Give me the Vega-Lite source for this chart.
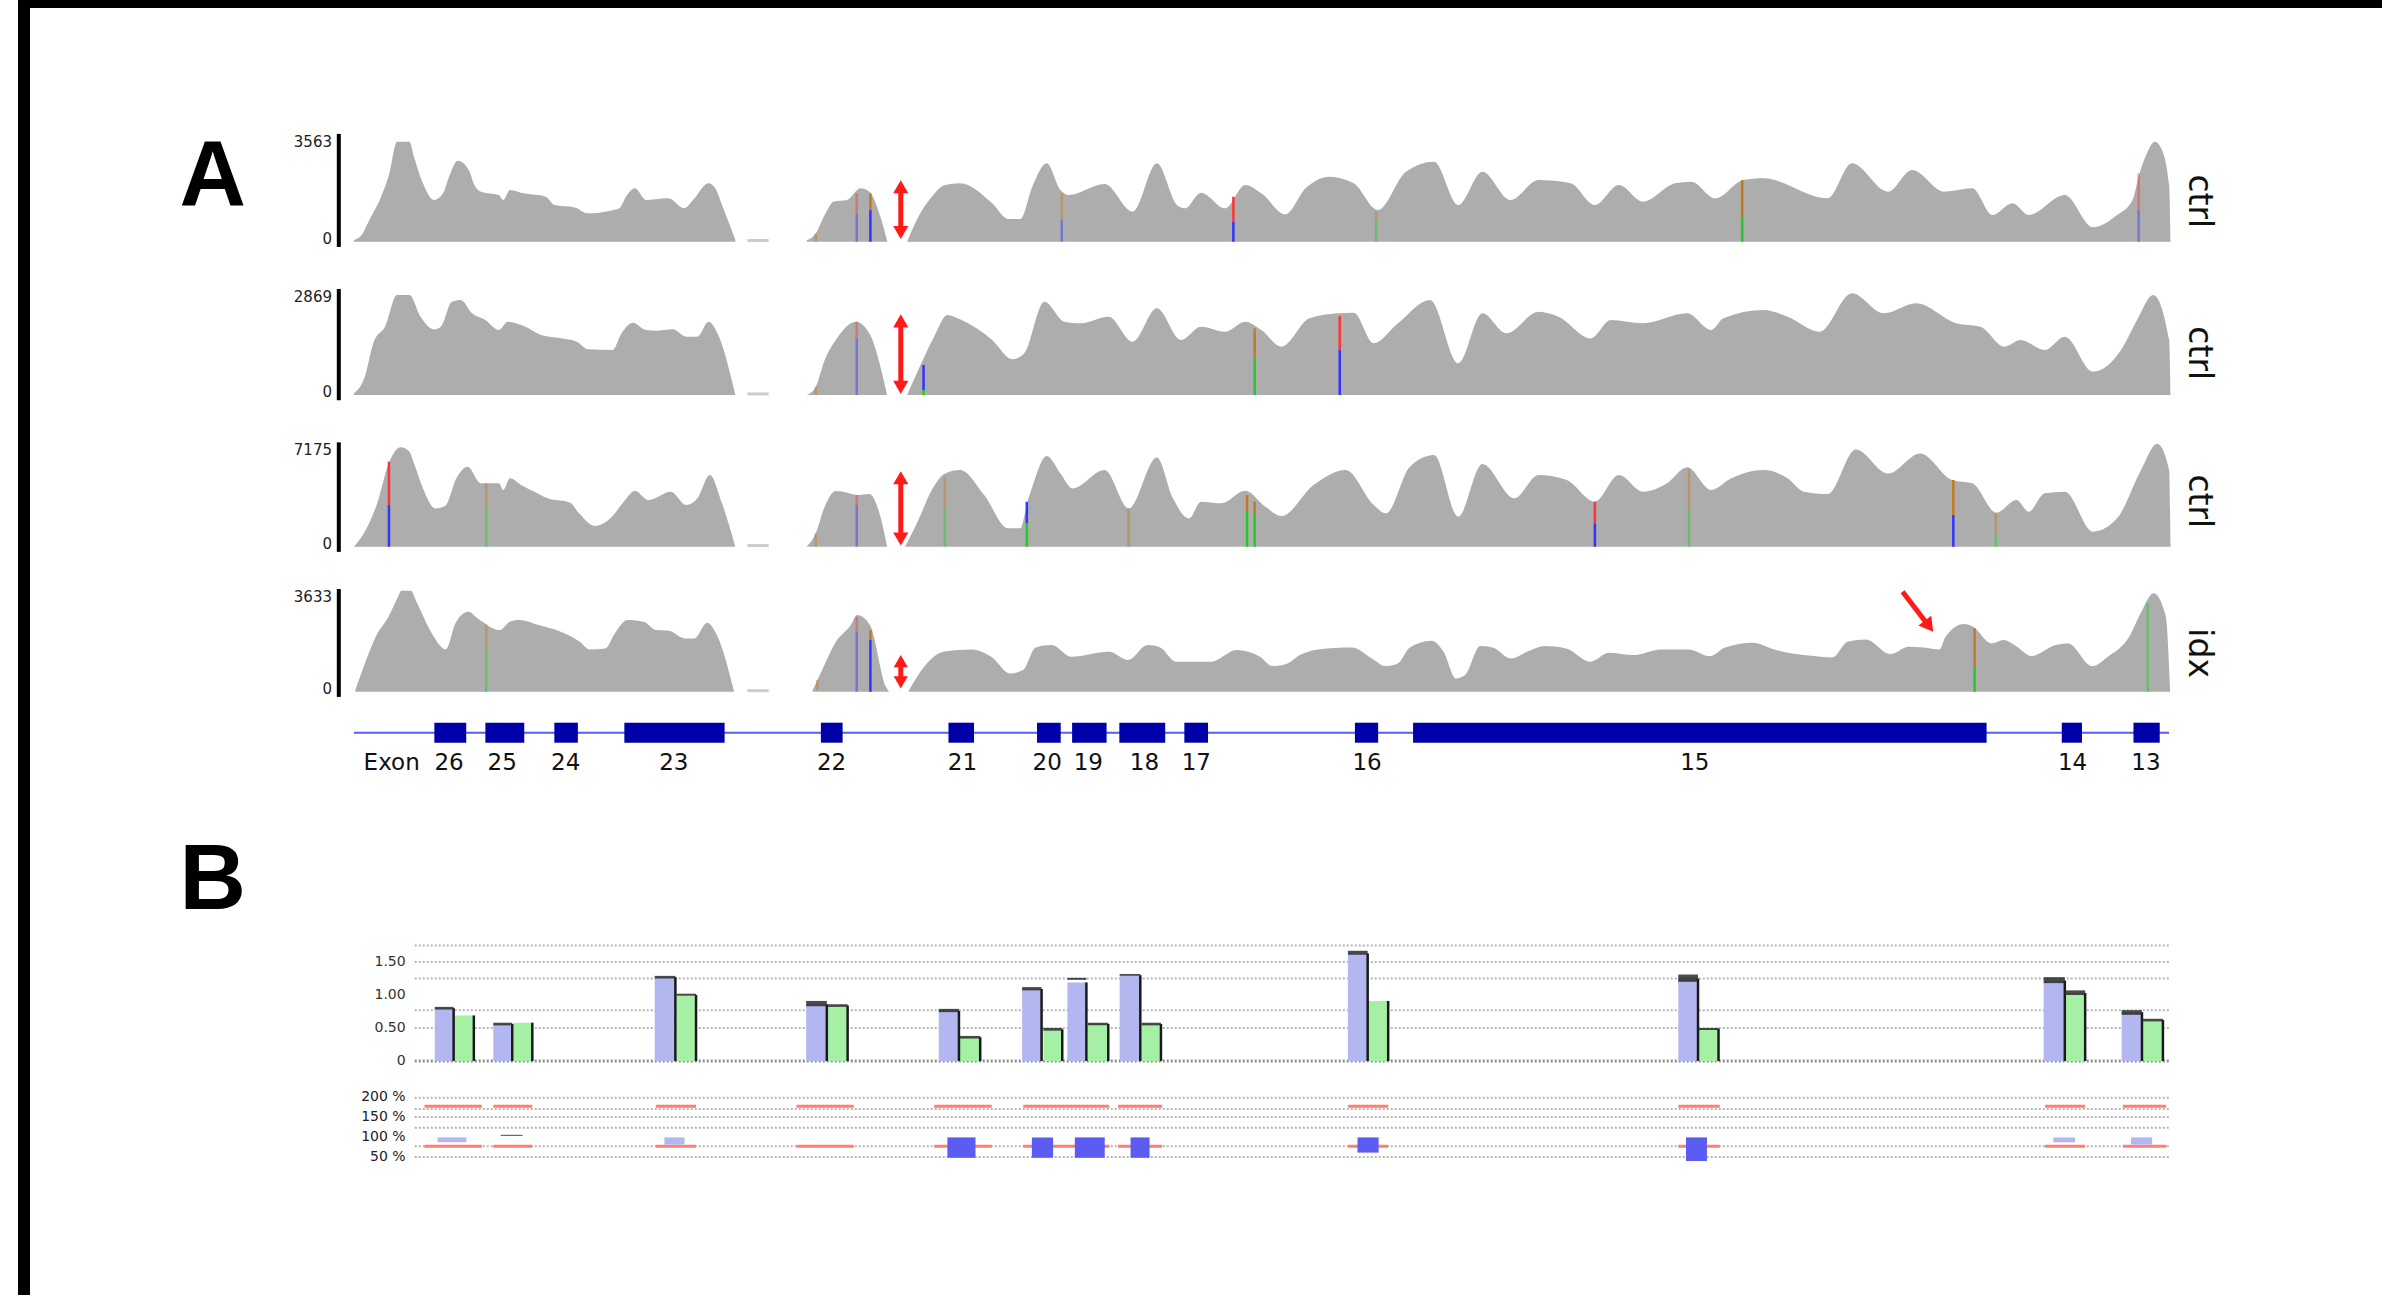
{
"$schema": "https://vega.github.io/schema/vega-lite/v6.json",
"width": 2370, "height": 1305,
"autosize": {"type": "none"},
"padding": {"left": 24, "top": 2, "right": -12, "bottom": -12},
"background": "white",
"config": {"view": {"stroke": "#000000", "strokeWidth": 12, "fill": "white"}, "text": {"font": "DejaVu Sans"}},
"datasets": {
"t1": [
{"seg":"a","pos":233,"cov":56},{"seg":"a","pos":238.7,"cov":278},{"seg":"a","pos":243.1,"cov":723},{"seg":"a","pos":250.4,"cov":1447},{"seg":"a","pos":256.3,"cov":2282},{"seg":"a","pos":261.3,"cov":3339},{"seg":"a","pos":269.5,"cov":3339},{"seg":"a","pos":272.5,"cov":2838},{"seg":"a","pos":278.4,"cov":1948},{"seg":"a","pos":285.7,"cov":1391},{"seg":"a","pos":291.6,"cov":1614},{"seg":"a","pos":296,"cov":2226},{"seg":"a","pos":301.3,"cov":2705},{"seg":"a","pos":309.2,"cov":2337},{"seg":"a","pos":311.3,"cov":2003},{"seg":"a","pos":316.6,"cov":1670},{"seg":"a","pos":328.3,"cov":1558},{"seg":"a","pos":331.3,"cov":1391},{"seg":"a","pos":335.7,"cov":1725},{"seg":"a","pos":344.5,"cov":1614},{"seg":"a","pos":359.2,"cov":1503},{"seg":"a","pos":365.1,"cov":1224},{"seg":"a","pos":378.3,"cov":1146},{"seg":"a","pos":387.1,"cov":946},{"seg":"a","pos":401.8,"cov":1035},{"seg":"a","pos":407.7,"cov":1113},{"seg":"a","pos":412.1,"cov":1503},{"seg":"a","pos":418,"cov":1781},{"seg":"a","pos":425.3,"cov":1391},{"seg":"a","pos":440,"cov":1447},{"seg":"a","pos":450.3,"cov":1113},{"seg":"a","pos":456.2,"cov":1391},{"seg":"a","pos":466.4,"cov":1948},{"seg":"a","pos":470.9,"cov":1781},{"seg":"a","pos":475.3,"cov":1224},{"seg":"a","pos":484.1,"cov":56},
{"seg":"b","pos":531.1,"cov":56},{"seg":"b","pos":537,"cov":278},{"seg":"b","pos":542.9,"cov":890},{"seg":"b","pos":548.7,"cov":1336},{"seg":"b","pos":557.6,"cov":1391},{"seg":"b","pos":566.4,"cov":1781},{"seg":"b","pos":572.3,"cov":1670},{"seg":"b","pos":579.6,"cov":835},{"seg":"b","pos":584,"cov":33},
{"seg":"c","pos":597.2,"cov":0},{"seg":"c","pos":604.6,"cov":835},{"seg":"c","pos":613.4,"cov":1503},{"seg":"c","pos":622.2,"cov":1892},{"seg":"c","pos":632,"cov":1948},{"seg":"c","pos":653.2,"cov":1280},{"seg":"c","pos":663.7,"cov":757},{"seg":"c","pos":671.7,"cov":757},{"seg":"c","pos":679.6,"cov":1836},{"seg":"c","pos":689.1,"cov":2616},{"seg":"c","pos":698.1,"cov":1725},{"seg":"c","pos":703.4,"cov":1558},{"seg":"c","pos":727.2,"cov":1925},{"seg":"c","pos":745.7,"cov":1002},{"seg":"c","pos":761.6,"cov":2616},{"seg":"c","pos":774.8,"cov":1224},{"seg":"c","pos":780.1,"cov":1113},{"seg":"c","pos":790.7,"cov":1636},{"seg":"c","pos":806.6,"cov":1113},{"seg":"c","pos":819.8,"cov":1892},{"seg":"c","pos":830.4,"cov":1614},{"seg":"c","pos":846.2,"cov":913},{"seg":"c","pos":859.5,"cov":1781},{"seg":"c","pos":875.3,"cov":2170},{"seg":"c","pos":891.2,"cov":1948},{"seg":"c","pos":907.1,"cov":1057},{"seg":"c","pos":925.6,"cov":2337},{"seg":"c","pos":944.1,"cov":2671},{"seg":"c","pos":960,"cov":1224},{"seg":"c","pos":975.9,"cov":2337},{"seg":"c","pos":994.4,"cov":1391},{"seg":"c","pos":1012.9,"cov":2059},{"seg":"c","pos":1034,"cov":1948},{"seg":"c","pos":1049.9,"cov":1224},{"seg":"c","pos":1065.8,"cov":1892},{"seg":"c","pos":1081.7,"cov":1336},{"seg":"c","pos":1102.8,"cov":1948},{"seg":"c","pos":1113.4,"cov":2003},{"seg":"c","pos":1129.3,"cov":1447},{"seg":"c","pos":1147.8,"cov":2059},{"seg":"c","pos":1161,"cov":2115},{"seg":"c","pos":1203.3,"cov":1447},{"seg":"c","pos":1219.2,"cov":2616},{"seg":"c","pos":1243,"cov":1670},{"seg":"c","pos":1258.9,"cov":2393},{"seg":"c","pos":1280,"cov":1670},{"seg":"c","pos":1298.5,"cov":1781},{"seg":"c","pos":1311.8,"cov":890},{"seg":"c","pos":1325,"cov":1280},{"seg":"c","pos":1335.6,"cov":890},{"seg":"c","pos":1359.4,"cov":1558},{"seg":"c","pos":1377.9,"cov":479},{"seg":"c","pos":1393.8,"cov":890},{"seg":"c","pos":1404,"cov":1395},{"seg":"c","pos":1408.6,"cov":2282},{"seg":"c","pos":1413,"cov":2900},{"seg":"c","pos":1418.7,"cov":3339},{"seg":"c","pos":1423,"cov":3100},{"seg":"c","pos":1428.1,"cov":1900},{"seg":"c","pos":1429,"cov":0}
],
"t2": [
{"seg":"a","pos":233,"cov":46},{"seg":"a","pos":240.1,"cov":501},{"seg":"a","pos":246,"cov":1457},{"seg":"a","pos":253.4,"cov":1867},{"seg":"a","pos":261.3,"cov":2732},{"seg":"a","pos":269.5,"cov":2732},{"seg":"a","pos":276.9,"cov":2140},{"seg":"a","pos":285.7,"cov":1794},{"seg":"a","pos":290.1,"cov":1867},{"seg":"a","pos":297.5,"cov":2550},{"seg":"a","pos":303.3,"cov":2596},{"seg":"a","pos":310.7,"cov":2231},{"seg":"a","pos":319.5,"cov":2049},{"seg":"a","pos":328.3,"cov":1776},{"seg":"a","pos":334.2,"cov":2004},{"seg":"a","pos":345.9,"cov":1867},{"seg":"a","pos":356.2,"cov":1639},{"seg":"a","pos":369.5,"cov":1548},{"seg":"a","pos":379.7,"cov":1457},{"seg":"a","pos":387.1,"cov":1248},{"seg":"a","pos":403.3,"cov":1230},{"seg":"a","pos":409.1,"cov":1685},{"seg":"a","pos":416.5,"cov":1976},{"seg":"a","pos":425.3,"cov":1776},{"seg":"a","pos":432.6,"cov":1758},{"seg":"a","pos":442.9,"cov":1794},{"seg":"a","pos":451.8,"cov":1594},{"seg":"a","pos":459.1,"cov":1594},{"seg":"a","pos":466.4,"cov":2004},{"seg":"a","pos":472.3,"cov":1685},{"seg":"a","pos":484.1,"cov":0},
{"seg":"b","pos":531.1,"cov":0},{"seg":"b","pos":537,"cov":228},{"seg":"b","pos":542.9,"cov":956},{"seg":"b","pos":550.2,"cov":1503},{"seg":"b","pos":563.4,"cov":2004},{"seg":"b","pos":572.3,"cov":1685},{"seg":"b","pos":584,"cov":0},
{"seg":"c","pos":597.2,"cov":0},{"seg":"c","pos":607.5,"cov":956},{"seg":"c","pos":614.9,"cov":1594},{"seg":"c","pos":623.7,"cov":2186},{"seg":"c","pos":632,"cov":2068},{"seg":"c","pos":653.2,"cov":1503},{"seg":"c","pos":666.4,"cov":975},{"seg":"c","pos":674.3,"cov":1139},{"seg":"c","pos":687.5,"cov":2550},{"seg":"c","pos":700.8,"cov":2004},{"seg":"c","pos":711.4,"cov":1958},{"seg":"c","pos":729.9,"cov":2140},{"seg":"c","pos":745.7,"cov":1457},{"seg":"c","pos":761.6,"cov":2368},{"seg":"c","pos":777.5,"cov":1503},{"seg":"c","pos":790.7,"cov":1867},{"seg":"c","pos":806.6,"cov":1731},{"seg":"c","pos":819.8,"cov":2004},{"seg":"c","pos":830.4,"cov":1776},{"seg":"c","pos":843.6,"cov":1321},{"seg":"c","pos":862.1,"cov":2095},{"seg":"c","pos":880.6,"cov":2231},{"seg":"c","pos":891.2,"cov":2250},{"seg":"c","pos":904.4,"cov":1412},{"seg":"c","pos":920.3,"cov":1958},{"seg":"c","pos":941.5,"cov":2596},{"seg":"c","pos":960,"cov":865},{"seg":"c","pos":975.9,"cov":2231},{"seg":"c","pos":991.7,"cov":1685},{"seg":"c","pos":1012.9,"cov":2277},{"seg":"c","pos":1026.1,"cov":2140},{"seg":"c","pos":1047.3,"cov":1548},{"seg":"c","pos":1060.5,"cov":2049},{"seg":"c","pos":1081.7,"cov":1958},{"seg":"c","pos":1110.7,"cov":2231},{"seg":"c","pos":1126.6,"cov":1776},{"seg":"c","pos":1134.6,"cov":2095},{"seg":"c","pos":1161,"cov":2323},{"seg":"c","pos":1176.9,"cov":2140},{"seg":"c","pos":1198,"cov":1731},{"seg":"c","pos":1219.2,"cov":2778},{"seg":"c","pos":1240.4,"cov":2231},{"seg":"c","pos":1261.5,"cov":2505},{"seg":"c","pos":1288,"cov":1958},{"seg":"c","pos":1303.8,"cov":1867},{"seg":"c","pos":1319.7,"cov":1321},{"seg":"c","pos":1330.3,"cov":1503},{"seg":"c","pos":1346.2,"cov":1230},{"seg":"c","pos":1359.4,"cov":1594},{"seg":"c","pos":1377.9,"cov":638},{"seg":"c","pos":1396.4,"cov":1230},{"seg":"c","pos":1407,"cov":2049},{"seg":"c","pos":1417.6,"cov":2732},{"seg":"c","pos":1428.1,"cov":1503},{"seg":"c","pos":1429,"cov":0}
],
"t3": [
{"seg":"a","pos":233,"cov":0},{"seg":"a","pos":240.1,"cov":1042},{"seg":"a","pos":247.5,"cov":2778},{"seg":"a","pos":256.3,"cov":5903},{"seg":"a","pos":263.7,"cov":6899},{"seg":"a","pos":269.5,"cov":6598},{"seg":"a","pos":272.5,"cov":5788},{"seg":"a","pos":278.4,"cov":4051},{"seg":"a","pos":286.6,"cov":2662},{"seg":"a","pos":293,"cov":2824},{"seg":"a","pos":300.4,"cov":4746},{"seg":"a","pos":307.7,"cov":5556},{"seg":"a","pos":316.6,"cov":4399},{"seg":"a","pos":328.3,"cov":4399},{"seg":"a","pos":331.3,"cov":3936},{"seg":"a","pos":335.7,"cov":4746},{"seg":"a","pos":343,"cov":4283},{"seg":"a","pos":351.8,"cov":3820},{"seg":"a","pos":360.6,"cov":3357},{"seg":"a","pos":375.3,"cov":3056},{"seg":"a","pos":381.2,"cov":2315},{"seg":"a","pos":391.5,"cov":1435},{"seg":"a","pos":401.8,"cov":1968},{"seg":"a","pos":410.6,"cov":3125},{"seg":"a","pos":418,"cov":3889},{"seg":"a","pos":426.8,"cov":3241},{"seg":"a","pos":441.5,"cov":3820},{"seg":"a","pos":451.8,"cov":2894},{"seg":"a","pos":459.1,"cov":3357},{"seg":"a","pos":467.3,"cov":4977},{"seg":"a","pos":475.3,"cov":3010},{"seg":"a","pos":484.1,"cov":0},
{"seg":"b","pos":531.1,"cov":0},{"seg":"b","pos":537,"cov":926},{"seg":"b","pos":542.9,"cov":2778},{"seg":"b","pos":550.2,"cov":3866},{"seg":"b","pos":557.6,"cov":3750},{"seg":"b","pos":564.9,"cov":3588},{"seg":"b","pos":572.3,"cov":3658},{"seg":"b","pos":579.6,"cov":2084},{"seg":"b","pos":584,"cov":0},
{"seg":"c","pos":595.8,"cov":0},{"seg":"c","pos":604.6,"cov":1852},{"seg":"c","pos":613.4,"cov":3936},{"seg":"c","pos":622.2,"cov":5093},{"seg":"c","pos":632,"cov":5325},{"seg":"c","pos":647.9,"cov":3588},{"seg":"c","pos":663.7,"cov":1273},{"seg":"c","pos":671.7,"cov":1273},{"seg":"c","pos":676.4,"cov":3125},{"seg":"c","pos":679.6,"cov":4167},{"seg":"c","pos":689.1,"cov":6297},{"seg":"c","pos":698.1,"cov":5093},{"seg":"c","pos":706.1,"cov":4051},{"seg":"c","pos":727.2,"cov":5325},{"seg":"c","pos":743.1,"cov":2662},{"seg":"c","pos":761.6,"cov":6204},{"seg":"c","pos":772.2,"cov":3357},{"seg":"c","pos":782.8,"cov":1968},{"seg":"c","pos":790.7,"cov":3125},{"seg":"c","pos":803.9,"cov":3010},{"seg":"c","pos":819.8,"cov":3889},{"seg":"c","pos":833,"cov":2778},{"seg":"c","pos":843.6,"cov":2130},{"seg":"c","pos":864.8,"cov":4283},{"seg":"c","pos":885.9,"cov":5325},{"seg":"c","pos":904.4,"cov":2894},{"seg":"c","pos":912.4,"cov":2315},{"seg":"c","pos":928.2,"cov":5556},{"seg":"c","pos":944.1,"cov":6366},{"seg":"c","pos":960,"cov":2084},{"seg":"c","pos":975.9,"cov":5741},{"seg":"c","pos":997,"cov":3357},{"seg":"c","pos":1012.9,"cov":4977},{"seg":"c","pos":1031.4,"cov":4630},{"seg":"c","pos":1049.9,"cov":3125},{"seg":"c","pos":1065.8,"cov":4977},{"seg":"c","pos":1081.7,"cov":3820},{"seg":"c","pos":1097.5,"cov":4399},{"seg":"c","pos":1110.7,"cov":5510},{"seg":"c","pos":1126.6,"cov":3936},{"seg":"c","pos":1139.8,"cov":4746},{"seg":"c","pos":1161,"cov":5325},{"seg":"c","pos":1176.9,"cov":4746},{"seg":"c","pos":1187.5,"cov":3820},{"seg":"c","pos":1203.3,"cov":3658},{"seg":"c","pos":1221.8,"cov":6760},{"seg":"c","pos":1243,"cov":5093},{"seg":"c","pos":1264.2,"cov":6482},{"seg":"c","pos":1285.3,"cov":4630},{"seg":"c","pos":1298.5,"cov":4399},{"seg":"c","pos":1314.4,"cov":2361},{"seg":"c","pos":1327.6,"cov":3241},{"seg":"c","pos":1335.6,"cov":2431},{"seg":"c","pos":1346.2,"cov":3704},{"seg":"c","pos":1359.4,"cov":3820},{"seg":"c","pos":1377.9,"cov":1042},{"seg":"c","pos":1393.8,"cov":1968},{"seg":"c","pos":1409.6,"cov":5325},{"seg":"c","pos":1420.2,"cov":7150},{"seg":"c","pos":1428.1,"cov":5325},{"seg":"c","pos":1429,"cov":0}
],
"t4": [
{"seg":"a","pos":233.9,"cov":60},{"seg":"a","pos":241,"cov":1131},{"seg":"a","pos":247.3,"cov":1965},{"seg":"a","pos":255.7,"cov":2680},{"seg":"a","pos":262,"cov":3394},{"seg":"a","pos":264.1,"cov":3609},{"seg":"a","pos":270.4,"cov":3609},{"seg":"a","pos":274.6,"cov":3156},{"seg":"a","pos":283,"cov":2203},{"seg":"a","pos":293.5,"cov":1513},{"seg":"a","pos":299.8,"cov":2442},{"seg":"a","pos":308.2,"cov":2858},{"seg":"a","pos":314.5,"cov":2620},{"seg":"a","pos":329.2,"cov":2203},{"seg":"a","pos":335.5,"cov":2501},{"seg":"a","pos":341.8,"cov":2561},{"seg":"a","pos":354.4,"cov":2382},{"seg":"a","pos":369.1,"cov":2144},{"seg":"a","pos":381.7,"cov":1787},{"seg":"a","pos":388,"cov":1513},{"seg":"a","pos":398.5,"cov":1548},{"seg":"a","pos":404.7,"cov":2084},{"seg":"a","pos":413.1,"cov":2561},{"seg":"a","pos":423.6,"cov":2501},{"seg":"a","pos":432,"cov":2203},{"seg":"a","pos":440.4,"cov":2180},{"seg":"a","pos":450.9,"cov":1906},{"seg":"a","pos":457.2,"cov":1906},{"seg":"a","pos":465.6,"cov":2465},{"seg":"a","pos":471.9,"cov":2025},{"seg":"a","pos":483.3,"cov":0},
{"seg":"b","pos":535,"cov":60},{"seg":"b","pos":541.2,"cov":774},{"seg":"b","pos":549.6,"cov":1727},{"seg":"b","pos":560.1,"cov":2382},{"seg":"b","pos":564.3,"cov":2739},{"seg":"b","pos":572.7,"cov":2382},{"seg":"b","pos":583.2,"cov":179},{"seg":"b","pos":585.3,"cov":0},
{"seg":"c","pos":597.9,"cov":0},{"seg":"c","pos":608.4,"cov":893},{"seg":"c","pos":621,"cov":1429},{"seg":"c","pos":639.9,"cov":1513},{"seg":"c","pos":652.5,"cov":1251},{"seg":"c","pos":665.1,"cov":655},{"seg":"c","pos":673.5,"cov":774},{"seg":"c","pos":681.9,"cov":1584},{"seg":"c","pos":692.4,"cov":1667},{"seg":"c","pos":705,"cov":1251},{"seg":"c","pos":730.2,"cov":1429},{"seg":"c","pos":742.8,"cov":1131},{"seg":"c","pos":755.4,"cov":1667},{"seg":"c","pos":763.8,"cov":1584},{"seg":"c","pos":774.3,"cov":1072},{"seg":"c","pos":797.4,"cov":1072},{"seg":"c","pos":814.2,"cov":1489},{"seg":"c","pos":829.5,"cov":1251},{"seg":"c","pos":837.6,"cov":917},{"seg":"c","pos":847.6,"cov":1012},{"seg":"c","pos":855.7,"cov":1310},{"seg":"c","pos":867.8,"cov":1513},{"seg":"c","pos":890,"cov":1584},{"seg":"c","pos":904.1,"cov":1155},{"seg":"c","pos":912.1,"cov":917},{"seg":"c","pos":920.2,"cov":1012},{"seg":"c","pos":928.2,"cov":1584},{"seg":"c","pos":942.3,"cov":1822},{"seg":"c","pos":950.4,"cov":1429},{"seg":"c","pos":958.5,"cov":476},{"seg":"c","pos":964.5,"cov":596},{"seg":"c","pos":974.6,"cov":1632},{"seg":"c","pos":982.6,"cov":1584},{"seg":"c","pos":994.7,"cov":1191},{"seg":"c","pos":1006.8,"cov":1465},{"seg":"c","pos":1016.9,"cov":1632},{"seg":"c","pos":1031,"cov":1548},{"seg":"c","pos":1047.1,"cov":1072},{"seg":"c","pos":1059.2,"cov":1393},{"seg":"c","pos":1075.3,"cov":1310},{"seg":"c","pos":1093.5,"cov":1513},{"seg":"c","pos":1111.6,"cov":1513},{"seg":"c","pos":1125.7,"cov":1274},{"seg":"c","pos":1135.8,"cov":1584},{"seg":"c","pos":1153.9,"cov":1751},{"seg":"c","pos":1168,"cov":1513},{"seg":"c","pos":1180.1,"cov":1370},{"seg":"c","pos":1194.2,"cov":1274},{"seg":"c","pos":1206.3,"cov":1227},{"seg":"c","pos":1216.4,"cov":1787},{"seg":"c","pos":1228.5,"cov":1870},{"seg":"c","pos":1244.6,"cov":1346},{"seg":"c","pos":1256.7,"cov":1608},{"seg":"c","pos":1266.8,"cov":1584},{"seg":"c","pos":1276.8,"cov":1513},{"seg":"c","pos":1280.9,"cov":1965},{"seg":"c","pos":1292.9,"cov":2418},{"seg":"c","pos":1299,"cov":2322},{"seg":"c","pos":1311.1,"cov":1727},{"seg":"c","pos":1319.1,"cov":1846},{"seg":"c","pos":1327.2,"cov":1632},{"seg":"c","pos":1337.3,"cov":1274},{"seg":"c","pos":1353.4,"cov":1667},{"seg":"c","pos":1361.5,"cov":1727},{"seg":"c","pos":1377.6,"cov":917},{"seg":"c","pos":1387.7,"cov":1251},{"seg":"c","pos":1401.8,"cov":1965},{"seg":"c","pos":1409.8,"cov":2858},{"seg":"c","pos":1417.9,"cov":3513},{"seg":"c","pos":1425.9,"cov":2680},{"seg":"c","pos":1428.8,"cov":0}
],
"snps": [
{"track":1,"pos":537,"base":"G","lo":0,"hi":278,"q":"low"},
{"track":1,"pos":564,"base":"C","lo":0,"hi":946,"q":"low"},
{"track":1,"pos":564,"base":"T","lo":946,"hi":1614,"q":"low"},
{"track":1,"pos":573,"base":"C","lo":0,"hi":1057,"q":"high"},
{"track":1,"pos":573,"base":"G","lo":1057,"hi":1614,"q":"high"},
{"track":1,"pos":699,"base":"C","lo":0,"hi":723,"q":"low"},
{"track":1,"pos":699,"base":"G","lo":723,"hi":1614,"q":"low"},
{"track":1,"pos":812,"base":"C","lo":0,"hi":668,"q":"high"},
{"track":1,"pos":812,"base":"T","lo":668,"hi":1503,"q":"high"},
{"track":1,"pos":906,"base":"A","lo":0,"hi":723,"q":"low"},
{"track":1,"pos":906,"base":"G","lo":723,"hi":1002,"q":"low"},
{"track":1,"pos":1147,"base":"A","lo":0,"hi":812,"q":"high"},
{"track":1,"pos":1147,"base":"G","lo":812,"hi":2059,"q":"high"},
{"track":1,"pos":1408,"base":"C","lo":0,"hi":1057,"q":"low"},
{"track":1,"pos":1408,"base":"T","lo":1057,"hi":2282,"q":"low"},
{"track":2,"pos":537,"base":"G","lo":0,"hi":228,"q":"low"},
{"track":2,"pos":564,"base":"C","lo":0,"hi":1548,"q":"low"},
{"track":2,"pos":564,"base":"T","lo":1548,"hi":2004,"q":"low"},
{"track":2,"pos":608,"base":"A","lo":0,"hi":137,"q":"high"},
{"track":2,"pos":608,"base":"C","lo":137,"hi":820,"q":"high"},
{"track":2,"pos":826,"base":"A","lo":0,"hi":1047,"q":"high"},
{"track":2,"pos":826,"base":"G","lo":1047,"hi":1822,"q":"high"},
{"track":2,"pos":882,"base":"C","lo":0,"hi":1230,"q":"high"},
{"track":2,"pos":882,"base":"T","lo":1230,"hi":2159,"q":"high"},
{"track":3,"pos":256,"base":"C","lo":0,"hi":2894,"q":"high"},
{"track":3,"pos":256,"base":"T","lo":2894,"hi":5903,"q":"high"},
{"track":3,"pos":320,"base":"A","lo":0,"hi":2778,"q":"low"},
{"track":3,"pos":320,"base":"G","lo":2778,"hi":4398,"q":"low"},
{"track":3,"pos":537,"base":"G","lo":0,"hi":926,"q":"low"},
{"track":3,"pos":564,"base":"C","lo":0,"hi":2894,"q":"low"},
{"track":3,"pos":564,"base":"T","lo":2894,"hi":3588,"q":"low"},
{"track":3,"pos":622,"base":"A","lo":0,"hi":2662,"q":"low"},
{"track":3,"pos":622,"base":"G","lo":2662,"hi":4862,"q":"low"},
{"track":3,"pos":676,"base":"A","lo":0,"hi":1621,"q":"high"},
{"track":3,"pos":676,"base":"C","lo":1621,"hi":3125,"q":"high"},
{"track":3,"pos":743,"base":"G","lo":0,"hi":2662,"q":"low"},
{"track":3,"pos":821,"base":"A","lo":0,"hi":2431,"q":"high"},
{"track":3,"pos":821,"base":"G","lo":2431,"hi":3588,"q":"high"},
{"track":3,"pos":826,"base":"A","lo":0,"hi":2315,"q":"high"},
{"track":3,"pos":826,"base":"G","lo":2315,"hi":3125,"q":"high"},
{"track":3,"pos":1050,"base":"C","lo":0,"hi":1621,"q":"high"},
{"track":3,"pos":1050,"base":"T","lo":1621,"hi":3125,"q":"high"},
{"track":3,"pos":1112,"base":"A","lo":0,"hi":2547,"q":"low"},
{"track":3,"pos":1112,"base":"G","lo":2547,"hi":5440,"q":"low"},
{"track":3,"pos":1286,"base":"C","lo":0,"hi":2199,"q":"high"},
{"track":3,"pos":1286,"base":"G","lo":2199,"hi":4630,"q":"high"},
{"track":3,"pos":1314,"base":"A","lo":0,"hi":926,"q":"low"},
{"track":3,"pos":1314,"base":"G","lo":926,"hi":2315,"q":"low"},
{"track":4,"pos":320,"base":"A","lo":0,"hi":1500,"q":"low"},
{"track":4,"pos":320,"base":"G","lo":1500,"hi":2400,"q":"low"},
{"track":4,"pos":538,"base":"G","lo":60,"hi":417,"q":"low"},
{"track":4,"pos":564,"base":"C","lo":0,"hi":2144,"q":"low"},
{"track":4,"pos":564,"base":"T","lo":2144,"hi":2680,"q":"low"},
{"track":4,"pos":573,"base":"C","lo":0,"hi":1846,"q":"high"},
{"track":4,"pos":573,"base":"G","lo":1846,"hi":2203,"q":"high"},
{"track":4,"pos":1300,"base":"A","lo":0,"hi":893,"q":"high"},
{"track":4,"pos":1300,"base":"G","lo":893,"hi":2263,"q":"high"},
{"track":4,"pos":1414,"base":"A","lo":0,"hi":3156,"q":"low"}
],
"arrows": [
{"track":1,"pos":593,"lo":307,"hi":1833},
{"track":2,"pos":593,"lo":210,"hi":2024},
{"track":3,"pos":593,"lo":535,"hi":4793},
{"track":4,"pos":593,"lo":335,"hi":1099}
],
"exons": [
{"exon":"26","start":285.9,"end":306.9,"mid":295.6},
{"exon":"25","start":319.5,"end":345.1,"mid":330.6},
{"exon":"24","start":364.9,"end":380.4,"mid":372.4},
{"exon":"23","start":411,"end":477,"mid":443.6},
{"exon":"22","start":540.4,"end":554.7,"mid":547.4},
{"exon":"21","start":624.4,"end":641.2,"mid":633.6},
{"exon":"20","start":682.7,"end":698.3,"mid":689.4},
{"exon":"19","start":705.8,"end":728.5,"mid":716.5},
{"exon":"18","start":736.9,"end":767.1,"mid":753.4},
{"exon":"17","start":779.7,"end":795.3,"mid":787.6},
{"exon":"16","start":892,"end":907.3,"mid":900},
{"exon":"15","start":930.3,"end":1307.9,"mid":1115.8},
{"exon":"14","start":1357.4,"end":1370.7,"mid":1364.5},
{"exon":"13","start":1404.6,"end":1421.9,"mid":1412.8}
],
"bars": [
{"exon":"26","series":"sample","x0":286.2,"x1":298.6,"ratio":0.80,"lo":0.78,"hi":0.82},
{"exon":"26","series":"control","x0":299.4,"x1":311.9,"ratio":0.69},
{"exon":"25","series":"sample","x0":324.7,"x1":337.2,"ratio":0.56,"lo":0.54,"hi":0.58},
{"exon":"25","series":"control","x0":338,"x1":350.4,"ratio":0.58},
{"exon":"23","series":"sample","x0":431,"x1":444.6,"ratio":1.27,"lo":1.25,"hi":1.29},
{"exon":"23","series":"control","x0":445.3,"x1":458.2,"ratio":1.00,"lo":0.99,"hi":1.02},
{"exon":"22","series":"sample","x0":530.7,"x1":544.3,"ratio":0.86,"lo":0.83,"hi":0.91},
{"exon":"22","series":"control","x0":545.1,"x1":558,"ratio":0.84,"lo":0.82,"hi":0.86},
{"exon":"21","series":"sample","x0":618,"x1":631.3,"ratio":0.76,"lo":0.74,"hi":0.79},
{"exon":"21","series":"control","x0":632,"x1":645.3,"ratio":0.36,"lo":0.34,"hi":0.38},
{"exon":"20","series":"sample","x0":672.9,"x1":685.7,"ratio":1.09,"lo":1.07,"hi":1.12},
{"exon":"20","series":"control","x0":686.9,"x1":699.3,"ratio":0.48,"lo":0.46,"hi":0.50},
{"exon":"19","series":"sample","x0":702.7,"x1":715.2,"ratio":1.19,"lo":1.23,"hi":1.26},
{"exon":"19","series":"control","x0":716,"x1":729.6,"ratio":0.56,"lo":0.54,"hi":0.58},
{"exon":"18","series":"sample","x0":737.1,"x1":750.7,"ratio":1.30,"lo":1.29,"hi":1.32},
{"exon":"18","series":"control","x0":751.5,"x1":764.3,"ratio":0.56,"lo":0.54,"hi":0.58},
{"exon":"16","series":"sample","x0":887.4,"x1":900.4,"ratio":1.63,"lo":1.61,"hi":1.67},
{"exon":"16","series":"control","x0":900.4,"x1":913.9,"ratio":0.91},
{"exon":"15","series":"sample","x0":1104.9,"x1":1117.9,"ratio":1.25,"lo":1.20,"hi":1.31},
{"exon":"15","series":"control","x0":1117.9,"x1":1131.4,"ratio":0.49,"lo":0.47,"hi":0.50},
{"exon":"14","series":"sample","x0":1345.5,"x1":1359.4,"ratio":1.22,"lo":1.18,"hi":1.27},
{"exon":"14","series":"control","x0":1359.4,"x1":1372.8,"ratio":1.03,"lo":1.00,"hi":1.07},
{"exon":"13","series":"sample","x0":1396.8,"x1":1410.2,"ratio":0.74,"lo":0.70,"hi":0.77},
{"exon":"13","series":"control","x0":1410.2,"x1":1424,"ratio":0.62,"lo":0.60,"hi":0.64}
],
"thr": [
{"x0":279.4,"x1":317.2},{"x0":324.7,"x1":350.4},{"x0":431.7,"x1":458.2},{"x0":524.3,"x1":562.1},{"x0":615,"x1":652.9},{"x0":673.6,"x1":730.3},{"x0":736,"x1":765.1},{"x0":887.5,"x1":914},{"x0":1104.9,"x1":1132.2},{"x0":1346.4,"x1":1372.8},{"x0":1397.6,"x1":1426.2}
],
"cnv": [
{"exon":"26","call":"normal","x0":288,"x1":307,"lo":87,"hi":99},
{"exon":"25","call":"uncertain","x0":329.6,"x1":344,"lo":102.5,"hi":105.5},
{"exon":"23","call":"normal","x0":437.4,"x1":450.6,"lo":81,"hi":99},
{"exon":"21","call":"deleted","x0":623.7,"x1":642.2,"lo":48,"hi":99},
{"exon":"20","call":"deleted","x0":679.3,"x1":693.3,"lo":48,"hi":99},
{"exon":"19","call":"deleted","x0":707.6,"x1":727.3,"lo":48,"hi":99},
{"exon":"18","call":"deleted","x0":744.3,"x1":756.8,"lo":48,"hi":99},
{"exon":"16","call":"deleted","x0":893.7,"x1":907.6,"lo":61,"hi":99},
{"exon":"15","call":"deleted","x0":1110,"x1":1123.8,"lo":40,"hi":99},
{"exon":"14","call":"normal","x0":1351.8,"x1":1366.1,"lo":87,"hi":99},
{"exon":"13","call":"normal","x0":1403,"x1":1416.9,"lo":81,"hi":99}
]
},
"resolve": {"scale": {"y": "independent", "color": "independent", "opacity": "independent"}},
"layer": [
{"layer": [
 {"data":{"name":"t1"},"mark":{"type":"area","color":"#adadad","interpolate":"monotone"},"encoding":{"x":{"field":"pos","type":"quantitative","scale":{"domain":[233,1428],"range":[330,2145],"nice":false,"zero":false},"axis":null},"y":{"field":"cov","type":"quantitative","stack":null,"scale":{"domain":[0,3563],"range":[239.7,133],"nice":false,"zero":false},"axis":null},"detail":{"field":"seg"}}},
 {"data":{"values":[{"from":492,"to":506,"v":40}]},"mark":{"type":"rule","color":"#cccccc","strokeWidth":3},"encoding":{"x":{"field":"from","type":"quantitative","scale":{"domain":[233,1428],"range":[330,2145],"nice":false,"zero":false},"axis":null},"x2":{"field":"to"},"y":{"field":"v","type":"quantitative","scale":{"domain":[0,3563],"range":[239.7,133],"nice":false,"zero":false},"axis":null}}},
 {"data":{"name":"snps"},"transform":[{"filter":"datum.track == 1"}],"mark":{"type":"rule","strokeWidth":2.5},"encoding":{"x":{"field":"pos","type":"quantitative","scale":{"domain":[233,1428],"range":[330,2145],"nice":false,"zero":false},"axis":null},"y":{"field":"lo","type":"quantitative","scale":{"domain":[0,3563],"range":[239.7,133],"nice":false,"zero":false},"axis":null},"y2":{"field":"hi"},"color":{"field":"base","type":"nominal","scale":{"domain":["A","C","G","T"],"range":["#22cc22","#3333ff","#c47a1c","#ff3333"]},"legend":null},"opacity":{"field":"q","type":"nominal","scale":{"domain":["high","low"],"range":[1,0.45]},"legend":null}}},
 {"data":{"name":"arrows"},"transform":[{"filter":"datum.track == 1"}],"mark":{"type":"rule","color":"#ff1a1a","strokeWidth":5},"encoding":{"x":{"field":"pos","type":"quantitative","scale":{"domain":[233,1428],"range":[330,2145],"nice":false,"zero":false},"axis":null},"y":{"field":"lo","type":"quantitative","scale":{"domain":[0,3563],"range":[239.7,133],"nice":false,"zero":false},"axis":null},"y2":{"field":"hi"}}},
 {"data":{"name":"arrows"},"transform":[{"filter":"datum.track == 1"}],"mark":{"type":"point","shape":"triangle-up","filled":true,"color":"#ff1a1a","size":230,"opacity":1},"encoding":{"x":{"field":"pos","type":"quantitative","scale":{"domain":[233,1428],"range":[330,2145],"nice":false,"zero":false},"axis":null},"y":{"field":"hi","type":"quantitative","scale":{"domain":[0,3563],"range":[239.7,133],"nice":false,"zero":false},"axis":null}}},
 {"data":{"name":"arrows"},"transform":[{"filter":"datum.track == 1"}],"mark":{"type":"point","shape":"triangle-down","filled":true,"color":"#ff1a1a","size":230,"opacity":1},"encoding":{"x":{"field":"pos","type":"quantitative","scale":{"domain":[233,1428],"range":[330,2145],"nice":false,"zero":false},"axis":null},"y":{"field":"lo","type":"quantitative","scale":{"domain":[0,3563],"range":[239.7,133],"nice":false,"zero":false},"axis":null}}},
 {"data":{"values":[{}]},"mark":{"type":"rule","color":"#000000","strokeWidth":4},"encoding":{"x":{"datum":223,"type":"quantitative","scale":{"domain":[233,1428],"range":[330,2145],"nice":false,"zero":false},"axis":null},"y":{"datum":-178,"type":"quantitative","scale":{"domain":[0,3563],"range":[239.7,133],"nice":false,"zero":false},"axis":null},"y2":{"datum":3599}}},
 {"data":{"values":[{}]},"mark":{"type":"text","text":"3563","align":"right","baseline":"top","fontSize":15,"color":"#222222"},"encoding":{"x":{"datum":218.5,"type":"quantitative","scale":{"domain":[233,1428],"range":[330,2145],"nice":false,"zero":false},"axis":null},"y":{"datum":3563,"type":"quantitative","scale":{"domain":[0,3563],"range":[239.7,133],"nice":false,"zero":false},"axis":null}}},
 {"data":{"values":[{}]},"mark":{"type":"text","text":"0","align":"right","baseline":"bottom","fontSize":15,"color":"#222222"},"encoding":{"x":{"datum":218.5,"type":"quantitative","scale":{"domain":[233,1428],"range":[330,2145],"nice":false,"zero":false},"axis":null},"y":{"datum":-178,"type":"quantitative","scale":{"domain":[0,3563],"range":[239.7,133],"nice":false,"zero":false},"axis":null}}},
 {"data":{"values":[{}]},"mark":{"type":"text","text":"ctrl","angle":90,"align":"center","baseline":"middle","fontSize":33,"color":"#111111"},"encoding":{"x":{"datum":1448,"type":"quantitative","scale":{"domain":[233,1428],"range":[330,2145],"nice":false,"zero":false},"axis":null},"y":{"datum":1349,"type":"quantitative","scale":{"domain":[0,3563],"range":[239.7,133],"nice":false,"zero":false},"axis":null}}},
 {"data":{"values":[{}]},"mark":{"type":"text","text":"A","align":"center","baseline":"alphabetic","fontSize":92,"fontWeight":"bold","font":"Liberation Sans","color":"#000000"},"encoding":{"x":{"datum":140,"type":"quantitative","scale":{"domain":[233,1428],"range":[330,2145],"nice":false,"zero":false},"axis":null},"y":{"datum":1225,"type":"quantitative","scale":{"domain":[0,3563],"range":[239.7,133],"nice":false,"zero":false},"axis":null}}}
]},
{"layer": [
 {"data":{"name":"t2"},"mark":{"type":"area","color":"#adadad","interpolate":"monotone"},"encoding":{"x":{"field":"pos","type":"quantitative","scale":{"domain":[233,1428],"range":[330,2145],"nice":false,"zero":false},"axis":null},"y":{"field":"cov","type":"quantitative","stack":null,"scale":{"domain":[0,2869],"range":[393,288],"nice":false,"zero":false},"axis":null},"detail":{"field":"seg"}}},
 {"data":{"values":[{"from":492,"to":506,"v":30}]},"mark":{"type":"rule","color":"#cccccc","strokeWidth":3},"encoding":{"x":{"field":"from","type":"quantitative","scale":{"domain":[233,1428],"range":[330,2145],"nice":false,"zero":false},"axis":null},"x2":{"field":"to"},"y":{"field":"v","type":"quantitative","scale":{"domain":[0,2869],"range":[393,288],"nice":false,"zero":false},"axis":null}}},
 {"data":{"name":"snps"},"transform":[{"filter":"datum.track == 2"}],"mark":{"type":"rule","strokeWidth":2.5},"encoding":{"x":{"field":"pos","type":"quantitative","scale":{"domain":[233,1428],"range":[330,2145],"nice":false,"zero":false},"axis":null},"y":{"field":"lo","type":"quantitative","scale":{"domain":[0,2869],"range":[393,288],"nice":false,"zero":false},"axis":null},"y2":{"field":"hi"},"color":{"field":"base","type":"nominal","scale":{"domain":["A","C","G","T"],"range":["#22cc22","#3333ff","#c47a1c","#ff3333"]},"legend":null},"opacity":{"field":"q","type":"nominal","scale":{"domain":["high","low"],"range":[1,0.45]},"legend":null}}},
 {"data":{"name":"arrows"},"transform":[{"filter":"datum.track == 2"}],"mark":{"type":"rule","color":"#ff1a1a","strokeWidth":5},"encoding":{"x":{"field":"pos","type":"quantitative","scale":{"domain":[233,1428],"range":[330,2145],"nice":false,"zero":false},"axis":null},"y":{"field":"lo","type":"quantitative","scale":{"domain":[0,2869],"range":[393,288],"nice":false,"zero":false},"axis":null},"y2":{"field":"hi"}}},
 {"data":{"name":"arrows"},"transform":[{"filter":"datum.track == 2"}],"mark":{"type":"point","shape":"triangle-up","filled":true,"color":"#ff1a1a","size":230,"opacity":1},"encoding":{"x":{"field":"pos","type":"quantitative","scale":{"domain":[233,1428],"range":[330,2145],"nice":false,"zero":false},"axis":null},"y":{"field":"hi","type":"quantitative","scale":{"domain":[0,2869],"range":[393,288],"nice":false,"zero":false},"axis":null}}},
 {"data":{"name":"arrows"},"transform":[{"filter":"datum.track == 2"}],"mark":{"type":"point","shape":"triangle-down","filled":true,"color":"#ff1a1a","size":230,"opacity":1},"encoding":{"x":{"field":"pos","type":"quantitative","scale":{"domain":[233,1428],"range":[330,2145],"nice":false,"zero":false},"axis":null},"y":{"field":"lo","type":"quantitative","scale":{"domain":[0,2869],"range":[393,288],"nice":false,"zero":false},"axis":null}}},
 {"data":{"values":[{}]},"mark":{"type":"rule","color":"#000000","strokeWidth":4},"encoding":{"x":{"datum":223,"type":"quantitative","scale":{"domain":[233,1428],"range":[330,2145],"nice":false,"zero":false},"axis":null},"y":{"datum":-143,"type":"quantitative","scale":{"domain":[0,2869],"range":[393,288],"nice":false,"zero":false},"axis":null},"y2":{"datum":2898}}},
 {"data":{"values":[{}]},"mark":{"type":"text","text":"2869","align":"right","baseline":"top","fontSize":15,"color":"#222222"},"encoding":{"x":{"datum":218.5,"type":"quantitative","scale":{"domain":[233,1428],"range":[330,2145],"nice":false,"zero":false},"axis":null},"y":{"datum":2869,"type":"quantitative","scale":{"domain":[0,2869],"range":[393,288],"nice":false,"zero":false},"axis":null}}},
 {"data":{"values":[{}]},"mark":{"type":"text","text":"0","align":"right","baseline":"bottom","fontSize":15,"color":"#222222"},"encoding":{"x":{"datum":218.5,"type":"quantitative","scale":{"domain":[233,1428],"range":[330,2145],"nice":false,"zero":false},"axis":null},"y":{"datum":-143,"type":"quantitative","scale":{"domain":[0,2869],"range":[393,288],"nice":false,"zero":false},"axis":null}}},
 {"data":{"values":[{}]},"mark":{"type":"text","text":"ctrl","angle":90,"align":"center","baseline":"middle","fontSize":33,"color":"#111111"},"encoding":{"x":{"datum":1448,"type":"quantitative","scale":{"domain":[233,1428],"range":[330,2145],"nice":false,"zero":false},"axis":null},"y":{"datum":1142,"type":"quantitative","scale":{"domain":[0,2869],"range":[393,288],"nice":false,"zero":false},"axis":null}}}
]},
{"layer": [
 {"data":{"name":"t3"},"mark":{"type":"area","color":"#adadad","interpolate":"monotone"},"encoding":{"x":{"field":"pos","type":"quantitative","scale":{"domain":[233,1428],"range":[330,2145],"nice":false,"zero":false},"axis":null},"y":{"field":"cov","type":"quantitative","stack":null,"scale":{"domain":[0,7175],"range":[544.7,441.4],"nice":false,"zero":false},"axis":null},"detail":{"field":"seg"}}},
 {"data":{"values":[{"from":492,"to":506,"v":80}]},"mark":{"type":"rule","color":"#cccccc","strokeWidth":3},"encoding":{"x":{"field":"from","type":"quantitative","scale":{"domain":[233,1428],"range":[330,2145],"nice":false,"zero":false},"axis":null},"x2":{"field":"to"},"y":{"field":"v","type":"quantitative","scale":{"domain":[0,7175],"range":[544.7,441.4],"nice":false,"zero":false},"axis":null}}},
 {"data":{"name":"snps"},"transform":[{"filter":"datum.track == 3"}],"mark":{"type":"rule","strokeWidth":2.5},"encoding":{"x":{"field":"pos","type":"quantitative","scale":{"domain":[233,1428],"range":[330,2145],"nice":false,"zero":false},"axis":null},"y":{"field":"lo","type":"quantitative","scale":{"domain":[0,7175],"range":[544.7,441.4],"nice":false,"zero":false},"axis":null},"y2":{"field":"hi"},"color":{"field":"base","type":"nominal","scale":{"domain":["A","C","G","T"],"range":["#22cc22","#3333ff","#c47a1c","#ff3333"]},"legend":null},"opacity":{"field":"q","type":"nominal","scale":{"domain":["high","low"],"range":[1,0.45]},"legend":null}}},
 {"data":{"name":"arrows"},"transform":[{"filter":"datum.track == 3"}],"mark":{"type":"rule","color":"#ff1a1a","strokeWidth":5},"encoding":{"x":{"field":"pos","type":"quantitative","scale":{"domain":[233,1428],"range":[330,2145],"nice":false,"zero":false},"axis":null},"y":{"field":"lo","type":"quantitative","scale":{"domain":[0,7175],"range":[544.7,441.4],"nice":false,"zero":false},"axis":null},"y2":{"field":"hi"}}},
 {"data":{"name":"arrows"},"transform":[{"filter":"datum.track == 3"}],"mark":{"type":"point","shape":"triangle-up","filled":true,"color":"#ff1a1a","size":230,"opacity":1},"encoding":{"x":{"field":"pos","type":"quantitative","scale":{"domain":[233,1428],"range":[330,2145],"nice":false,"zero":false},"axis":null},"y":{"field":"hi","type":"quantitative","scale":{"domain":[0,7175],"range":[544.7,441.4],"nice":false,"zero":false},"axis":null}}},
 {"data":{"name":"arrows"},"transform":[{"filter":"datum.track == 3"}],"mark":{"type":"point","shape":"triangle-down","filled":true,"color":"#ff1a1a","size":230,"opacity":1},"encoding":{"x":{"field":"pos","type":"quantitative","scale":{"domain":[233,1428],"range":[330,2145],"nice":false,"zero":false},"axis":null},"y":{"field":"lo","type":"quantitative","scale":{"domain":[0,7175],"range":[544.7,441.4],"nice":false,"zero":false},"axis":null}}},
 {"data":{"values":[{}]},"mark":{"type":"rule","color":"#000000","strokeWidth":4},"encoding":{"x":{"datum":223,"type":"quantitative","scale":{"domain":[233,1428],"range":[330,2145],"nice":false,"zero":false},"axis":null},"y":{"datum":-359,"type":"quantitative","scale":{"domain":[0,7175],"range":[544.7,441.4],"nice":false,"zero":false},"axis":null},"y2":{"datum":7247}}},
 {"data":{"values":[{}]},"mark":{"type":"text","text":"7175","align":"right","baseline":"top","fontSize":15,"color":"#222222"},"encoding":{"x":{"datum":218.5,"type":"quantitative","scale":{"domain":[233,1428],"range":[330,2145],"nice":false,"zero":false},"axis":null},"y":{"datum":7175,"type":"quantitative","scale":{"domain":[0,7175],"range":[544.7,441.4],"nice":false,"zero":false},"axis":null}}},
 {"data":{"values":[{}]},"mark":{"type":"text","text":"0","align":"right","baseline":"bottom","fontSize":15,"color":"#222222"},"encoding":{"x":{"datum":218.5,"type":"quantitative","scale":{"domain":[233,1428],"range":[330,2145],"nice":false,"zero":false},"axis":null},"y":{"datum":-359,"type":"quantitative","scale":{"domain":[0,7175],"range":[544.7,441.4],"nice":false,"zero":false},"axis":null}}},
 {"data":{"values":[{}]},"mark":{"type":"text","text":"ctrl","angle":90,"align":"center","baseline":"middle","fontSize":33,"color":"#111111"},"encoding":{"x":{"datum":1448,"type":"quantitative","scale":{"domain":[233,1428],"range":[330,2145],"nice":false,"zero":false},"axis":null},"y":{"datum":3154,"type":"quantitative","scale":{"domain":[0,7175],"range":[544.7,441.4],"nice":false,"zero":false},"axis":null}}}
]},
{"layer": [
 {"data":{"name":"t4"},"mark":{"type":"area","color":"#adadad","interpolate":"monotone"},"encoding":{"x":{"field":"pos","type":"quantitative","scale":{"domain":[233,1428],"range":[330,2145],"nice":false,"zero":false},"axis":null},"y":{"field":"cov","type":"quantitative","stack":null,"scale":{"domain":[0,3633],"range":[689.8,588],"nice":false,"zero":false},"axis":null},"detail":{"field":"seg"}}},
 {"data":{"values":[{"from":492,"to":506,"v":40}]},"mark":{"type":"rule","color":"#cccccc","strokeWidth":3},"encoding":{"x":{"field":"from","type":"quantitative","scale":{"domain":[233,1428],"range":[330,2145],"nice":false,"zero":false},"axis":null},"x2":{"field":"to"},"y":{"field":"v","type":"quantitative","scale":{"domain":[0,3633],"range":[689.8,588],"nice":false,"zero":false},"axis":null}}},
 {"data":{"name":"snps"},"transform":[{"filter":"datum.track == 4"}],"mark":{"type":"rule","strokeWidth":2.5},"encoding":{"x":{"field":"pos","type":"quantitative","scale":{"domain":[233,1428],"range":[330,2145],"nice":false,"zero":false},"axis":null},"y":{"field":"lo","type":"quantitative","scale":{"domain":[0,3633],"range":[689.8,588],"nice":false,"zero":false},"axis":null},"y2":{"field":"hi"},"color":{"field":"base","type":"nominal","scale":{"domain":["A","C","G","T"],"range":["#22cc22","#3333ff","#c47a1c","#ff3333"]},"legend":null},"opacity":{"field":"q","type":"nominal","scale":{"domain":["high","low"],"range":[1,0.45]},"legend":null}}},
 {"data":{"name":"arrows"},"transform":[{"filter":"datum.track == 4"}],"mark":{"type":"rule","color":"#ff1a1a","strokeWidth":5},"encoding":{"x":{"field":"pos","type":"quantitative","scale":{"domain":[233,1428],"range":[330,2145],"nice":false,"zero":false},"axis":null},"y":{"field":"lo","type":"quantitative","scale":{"domain":[0,3633],"range":[689.8,588],"nice":false,"zero":false},"axis":null},"y2":{"field":"hi"}}},
 {"data":{"name":"arrows"},"transform":[{"filter":"datum.track == 4"}],"mark":{"type":"point","shape":"triangle-up","filled":true,"color":"#ff1a1a","size":200,"opacity":1},"encoding":{"x":{"field":"pos","type":"quantitative","scale":{"domain":[233,1428],"range":[330,2145],"nice":false,"zero":false},"axis":null},"y":{"field":"hi","type":"quantitative","scale":{"domain":[0,3633],"range":[689.8,588],"nice":false,"zero":false},"axis":null}}},
 {"data":{"name":"arrows"},"transform":[{"filter":"datum.track == 4"}],"mark":{"type":"point","shape":"triangle-down","filled":true,"color":"#ff1a1a","size":200,"opacity":1},"encoding":{"x":{"field":"pos","type":"quantitative","scale":{"domain":[233,1428],"range":[330,2145],"nice":false,"zero":false},"axis":null},"y":{"field":"lo","type":"quantitative","scale":{"domain":[0,3633],"range":[689.8,588],"nice":false,"zero":false},"axis":null}}},
 {"data":{"values":[{}]},"mark":{"type":"rule","color":"#ff1a1a","strokeWidth":5},"encoding":{"x":{"datum":1252.6,"type":"quantitative","scale":{"domain":[233,1428],"range":[330,2145],"nice":false,"zero":false},"axis":null},"x2":{"datum":1270},"y":{"datum":3573,"type":"quantitative","scale":{"domain":[0,3633],"range":[689.8,588],"nice":false,"zero":false},"axis":null},"y2":{"datum":2341}}},
 {"data":{"values":[{}]},"mark":{"type":"point","shape":"triangle-down","angle":323,"filled":true,"color":"#ff1a1a","size":260,"opacity":1},"encoding":{"x":{"datum":1270,"type":"quantitative","scale":{"domain":[233,1428],"range":[330,2145],"nice":false,"zero":false},"axis":null},"y":{"datum":2341,"type":"quantitative","scale":{"domain":[0,3633],"range":[689.8,588],"nice":false,"zero":false},"axis":null}}},
 {"data":{"values":[{}]},"mark":{"type":"rule","color":"#000000","strokeWidth":4},"encoding":{"x":{"datum":223,"type":"quantitative","scale":{"domain":[233,1428],"range":[330,2145],"nice":false,"zero":false},"axis":null},"y":{"datum":-182,"type":"quantitative","scale":{"domain":[0,3633],"range":[689.8,588],"nice":false,"zero":false},"axis":null},"y2":{"datum":3669}}},
 {"data":{"values":[{}]},"mark":{"type":"text","text":"3633","align":"right","baseline":"top","fontSize":15,"color":"#222222"},"encoding":{"x":{"datum":218.5,"type":"quantitative","scale":{"domain":[233,1428],"range":[330,2145],"nice":false,"zero":false},"axis":null},"y":{"datum":3633,"type":"quantitative","scale":{"domain":[0,3633],"range":[689.8,588],"nice":false,"zero":false},"axis":null}}},
 {"data":{"values":[{}]},"mark":{"type":"text","text":"0","align":"right","baseline":"bottom","fontSize":15,"color":"#222222"},"encoding":{"x":{"datum":218.5,"type":"quantitative","scale":{"domain":[233,1428],"range":[330,2145],"nice":false,"zero":false},"axis":null},"y":{"datum":-182,"type":"quantitative","scale":{"domain":[0,3633],"range":[689.8,588],"nice":false,"zero":false},"axis":null}}},
 {"data":{"values":[{}]},"mark":{"type":"text","text":"idx","angle":90,"align":"center","baseline":"middle","fontSize":33,"color":"#111111"},"encoding":{"x":{"datum":1448,"type":"quantitative","scale":{"domain":[233,1428],"range":[330,2145],"nice":false,"zero":false},"axis":null},"y":{"datum":1378,"type":"quantitative","scale":{"domain":[0,3633],"range":[689.8,588],"nice":false,"zero":false},"axis":null}}}
]},
{"layer": [
 {"data":{"values":[{}]},"mark":{"type":"rule","color":"#5a5aff","strokeWidth":2},"encoding":{"x":{"datum":233,"type":"quantitative","scale":{"domain":[233,1428],"range":[330,2145],"nice":false,"zero":false},"axis":null},"x2":{"datum":1428},"y":{"datum":0,"type":"quantitative","scale":{"domain":[-1,1],"range":[740.7,720.7],"nice":false,"zero":false},"axis":null}}},
 {"data":{"name":"exons"},"mark":{"type":"rect","color":"#0000a8"},"encoding":{"x":{"field":"start","type":"quantitative","scale":{"domain":[233,1428],"range":[330,2145],"nice":false,"zero":false},"axis":null},"x2":{"field":"end"},"y":{"datum":-1,"type":"quantitative","scale":{"domain":[-1,1],"range":[740.7,720.7],"nice":false,"zero":false},"axis":null},"y2":{"datum":1}}},
 {"data":{"name":"exons"},"mark":{"type":"text","align":"center","baseline":"middle","fontSize":23,"color":"#111111"},"encoding":{"x":{"field":"mid","type":"quantitative","scale":{"domain":[233,1428],"range":[330,2145],"nice":false,"zero":false},"axis":null},"y":{"datum":-3.06,"type":"quantitative","scale":{"domain":[-1,1],"range":[740.7,720.7],"nice":false,"zero":false},"axis":null},"text":{"field":"exon"}}},
 {"data":{"values":[{}]},"mark":{"type":"text","text":"Exon","align":"center","baseline":"middle","fontSize":23,"color":"#111111"},"encoding":{"x":{"datum":257.8,"type":"quantitative","scale":{"domain":[233,1428],"range":[330,2145],"nice":false,"zero":false},"axis":null},"y":{"datum":-3.06,"type":"quantitative","scale":{"domain":[-1,1],"range":[740.7,720.7],"nice":false,"zero":false},"axis":null}}}
]},
{"layer": [
 {"data":{"values":[{"v":1.75},{"v":1.5},{"v":1.25},{"v":0.77},{"v":0.5}]},"mark":{"type":"rule","color":"#b4b4b4","strokeWidth":2,"strokeDash":[2,2]},"encoding":{"x":{"datum":273,"type":"quantitative","scale":{"domain":[233,1428],"range":[330,2145],"nice":false,"zero":false},"axis":null},"x2":{"datum":1428},"y":{"field":"v","type":"quantitative","scale":{"domain":[0,1.5],"range":[1059,960],"nice":false,"zero":false},"axis":null}}},
 {"data":{"values":[{}]},"mark":{"type":"rule","color":"#8c8c8c","strokeWidth":3,"strokeDash":[2,2]},"encoding":{"x":{"datum":273,"type":"quantitative","scale":{"domain":[233,1428],"range":[330,2145],"nice":false,"zero":false},"axis":null},"x2":{"datum":1428},"y":{"datum":0,"type":"quantitative","scale":{"domain":[0,1.5],"range":[1059,960],"nice":false,"zero":false},"axis":null}}},
 {"data":{"name":"bars"},"mark":{"type":"rect"},"encoding":{"x":{"field":"x0","type":"quantitative","scale":{"domain":[233,1428],"range":[330,2145],"nice":false,"zero":false},"axis":null},"x2":{"field":"x1"},"y":{"field":"ratio","type":"quantitative","scale":{"domain":[0,1.5],"range":[1059,960],"nice":false,"zero":false},"axis":null},"y2":{"datum":0},"color":{"field":"series","type":"nominal","scale":{"domain":["sample","control"],"range":["#b3b7ef","#a6f0a6"]},"legend":null}}},
 {"data":{"name":"bars"},"mark":{"type":"rule","color":"#1a1a1a","strokeWidth":2.5},"encoding":{"x":{"field":"x1","type":"quantitative","scale":{"domain":[233,1428],"range":[330,2145],"nice":false,"zero":false},"axis":null},"y":{"field":"ratio","type":"quantitative","scale":{"domain":[0,1.5],"range":[1059,960],"nice":false,"zero":false},"axis":null},"y2":{"datum":0}}},
 {"data":{"name":"bars"},"transform":[{"filter":"datum.lo != null"}],"mark":{"type":"rect","color":"#2a2a2a","opacity":0.85},"encoding":{"x":{"field":"x0","type":"quantitative","scale":{"domain":[233,1428],"range":[330,2145],"nice":false,"zero":false},"axis":null},"x2":{"field":"x1"},"y":{"field":"lo","type":"quantitative","scale":{"domain":[0,1.5],"range":[1059,960],"nice":false,"zero":false},"axis":null},"y2":{"field":"hi"}}},
 {"data":{"values":[{"v":1.5,"l":"1.50"},{"v":1.0,"l":"1.00"},{"v":0.5,"l":"0.50"},{"v":0,"l":"0"}]},"mark":{"type":"text","align":"right","baseline":"middle","fontSize":14,"color":"#333333"},"encoding":{"x":{"datum":267,"type":"quantitative","scale":{"domain":[233,1428],"range":[330,2145],"nice":false,"zero":false},"axis":null},"y":{"field":"v","type":"quantitative","scale":{"domain":[0,1.5],"range":[1059,960],"nice":false,"zero":false},"axis":null},"text":{"field":"l"}}},
 {"data":{"values":[{}]},"mark":{"type":"text","text":"B","align":"center","baseline":"alphabetic","fontSize":92,"fontWeight":"bold","font":"Liberation Sans","color":"#000000"},"encoding":{"x":{"datum":140,"type":"quantitative","scale":{"domain":[233,1428],"range":[330,2145],"nice":false,"zero":false},"axis":null},"y":{"datum":2.31,"type":"quantitative","scale":{"domain":[0,1.5],"range":[1059,960],"nice":false,"zero":false},"axis":null}}}
]},
{"layer": [
 {"data":{"values":[{"v":198},{"v":170},{"v":150},{"v":123},{"v":77},{"v":50}]},"mark":{"type":"rule","color":"#b4b4b4","strokeWidth":2,"strokeDash":[2,2]},"encoding":{"x":{"datum":273,"type":"quantitative","scale":{"domain":[233,1428],"range":[330,2145],"nice":false,"zero":false},"axis":null},"x2":{"datum":1428},"y":{"field":"v","type":"quantitative","scale":{"domain":[50,200],"range":[1155,1095],"nice":false,"zero":false},"axis":null}}},
 {"data":{"name":"thr"},"mark":{"type":"rule","color":"#ff8070","strokeWidth":3},"encoding":{"x":{"field":"x0","type":"quantitative","scale":{"domain":[233,1428],"range":[330,2145],"nice":false,"zero":false},"axis":null},"x2":{"field":"x1"},"y":{"datum":177,"type":"quantitative","scale":{"domain":[50,200],"range":[1155,1095],"nice":false,"zero":false},"axis":null}}},
 {"data":{"name":"thr"},"mark":{"type":"rule","color":"#ff8070","strokeWidth":3},"encoding":{"x":{"field":"x0","type":"quantitative","scale":{"domain":[233,1428],"range":[330,2145],"nice":false,"zero":false},"axis":null},"x2":{"field":"x1"},"y":{"datum":77,"type":"quantitative","scale":{"domain":[50,200],"range":[1155,1095],"nice":false,"zero":false},"axis":null}}},
 {"data":{"name":"cnv"},"mark":{"type":"rect"},"encoding":{"x":{"field":"x0","type":"quantitative","scale":{"domain":[233,1428],"range":[330,2145],"nice":false,"zero":false},"axis":null},"x2":{"field":"x1"},"y":{"field":"lo","type":"quantitative","scale":{"domain":[50,200],"range":[1155,1095],"nice":false,"zero":false},"axis":null},"y2":{"field":"hi"},"color":{"field":"call","type":"nominal","scale":{"domain":["normal","deleted","uncertain"],"range":["#b3b7ef","#5c5cf2","#6a6a6a"]},"legend":null}}},
 {"data":{"values":[{"v":200,"l":"200 %"},{"v":150,"l":"150 %"},{"v":100,"l":"100 %"},{"v":50,"l":"50 %"}]},"mark":{"type":"text","align":"right","baseline":"middle","fontSize":14,"color":"#222222"},"encoding":{"x":{"datum":267,"type":"quantitative","scale":{"domain":[233,1428],"range":[330,2145],"nice":false,"zero":false},"axis":null},"y":{"field":"v","type":"quantitative","scale":{"domain":[50,200],"range":[1155,1095],"nice":false,"zero":false},"axis":null},"text":{"field":"l"}}}
]}
]
}
